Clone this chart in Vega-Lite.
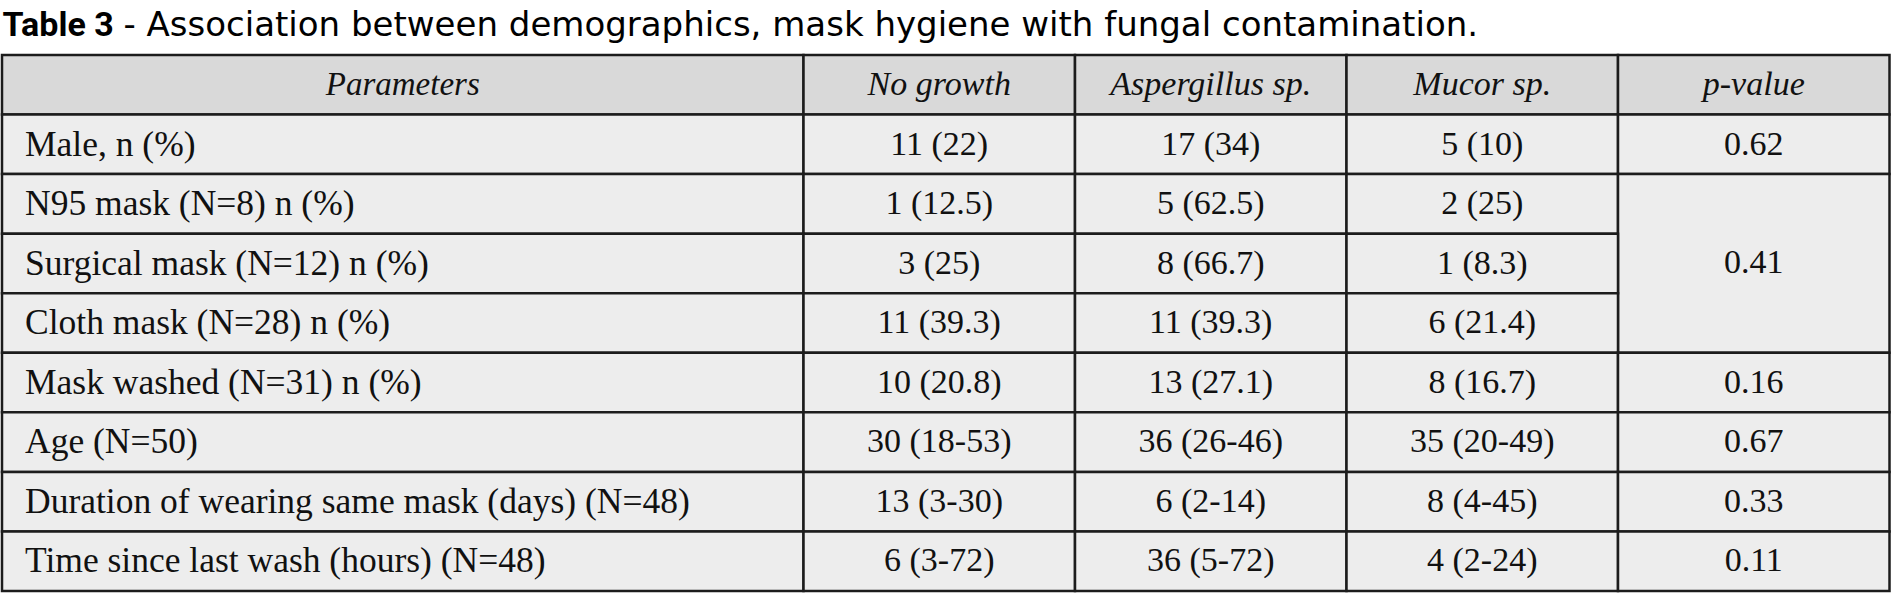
{
  "$schema": "https://vega.github.io/schema/vega-lite/v6.json",
  "width": 1888,
  "height": 536,
  "autosize": "none",
  "padding": {"left": 2, "top": 55, "right": 2, "bottom": 17},
  "background": "white",
  "config": {"view": {"stroke": null}},
  "data": {
    "values": [
      {"row": 0, "rowEnd": 1, "col": 0, "colEnd": 1, "text": "Parameters"},
      {"row": 0, "rowEnd": 1, "col": 1, "colEnd": 2, "text": "No growth"},
      {"row": 0, "rowEnd": 1, "col": 2, "colEnd": 3, "text": "Aspergillus sp."},
      {"row": 0, "rowEnd": 1, "col": 3, "colEnd": 4, "text": "Mucor sp."},
      {"row": 0, "rowEnd": 1, "col": 4, "colEnd": 5, "text": "p-value"},

      {"row": 1, "rowEnd": 2, "col": 0, "colEnd": 1, "text": "Male, n (%)"},
      {"row": 1, "rowEnd": 2, "col": 1, "colEnd": 2, "text": "11 (22)"},
      {"row": 1, "rowEnd": 2, "col": 2, "colEnd": 3, "text": "17 (34)"},
      {"row": 1, "rowEnd": 2, "col": 3, "colEnd": 4, "text": "5 (10)"},
      {"row": 1, "rowEnd": 2, "col": 4, "colEnd": 5, "text": "0.62"},

      {"row": 2, "rowEnd": 3, "col": 0, "colEnd": 1, "text": "N95 mask (N=8) n (%)"},
      {"row": 2, "rowEnd": 3, "col": 1, "colEnd": 2, "text": "1 (12.5)"},
      {"row": 2, "rowEnd": 3, "col": 2, "colEnd": 3, "text": "5 (62.5)"},
      {"row": 2, "rowEnd": 3, "col": 3, "colEnd": 4, "text": "2 (25)"},
      {"row": 2, "rowEnd": 5, "col": 4, "colEnd": 5, "text": "0.41"},

      {"row": 3, "rowEnd": 4, "col": 0, "colEnd": 1, "text": "Surgical mask (N=12) n (%)"},
      {"row": 3, "rowEnd": 4, "col": 1, "colEnd": 2, "text": "3 (25)"},
      {"row": 3, "rowEnd": 4, "col": 2, "colEnd": 3, "text": "8 (66.7)"},
      {"row": 3, "rowEnd": 4, "col": 3, "colEnd": 4, "text": "1 (8.3)"},

      {"row": 4, "rowEnd": 5, "col": 0, "colEnd": 1, "text": "Cloth mask (N=28) n (%)"},
      {"row": 4, "rowEnd": 5, "col": 1, "colEnd": 2, "text": "11 (39.3)"},
      {"row": 4, "rowEnd": 5, "col": 2, "colEnd": 3, "text": "11 (39.3)"},
      {"row": 4, "rowEnd": 5, "col": 3, "colEnd": 4, "text": "6 (21.4)"},

      {"row": 5, "rowEnd": 6, "col": 0, "colEnd": 1, "text": "Mask washed (N=31) n (%)"},
      {"row": 5, "rowEnd": 6, "col": 1, "colEnd": 2, "text": "10 (20.8)"},
      {"row": 5, "rowEnd": 6, "col": 2, "colEnd": 3, "text": "13 (27.1)"},
      {"row": 5, "rowEnd": 6, "col": 3, "colEnd": 4, "text": "8 (16.7)"},
      {"row": 5, "rowEnd": 6, "col": 4, "colEnd": 5, "text": "0.16"},

      {"row": 6, "rowEnd": 7, "col": 0, "colEnd": 1, "text": "Age (N=50)"},
      {"row": 6, "rowEnd": 7, "col": 1, "colEnd": 2, "text": "30 (18-53)"},
      {"row": 6, "rowEnd": 7, "col": 2, "colEnd": 3, "text": "36 (26-46)"},
      {"row": 6, "rowEnd": 7, "col": 3, "colEnd": 4, "text": "35 (20-49)"},
      {"row": 6, "rowEnd": 7, "col": 4, "colEnd": 5, "text": "0.67"},

      {"row": 7, "rowEnd": 8, "col": 0, "colEnd": 1, "text": "Duration of wearing same mask (days) (N=48)"},
      {"row": 7, "rowEnd": 8, "col": 1, "colEnd": 2, "text": "13 (3-30)"},
      {"row": 7, "rowEnd": 8, "col": 2, "colEnd": 3, "text": "6 (2-14)"},
      {"row": 7, "rowEnd": 8, "col": 3, "colEnd": 4, "text": "8 (4-45)"},
      {"row": 7, "rowEnd": 8, "col": 4, "colEnd": 5, "text": "0.33"},

      {"row": 8, "rowEnd": 9, "col": 0, "colEnd": 1, "text": "Time since last wash (hours) (N=48)"},
      {"row": 8, "rowEnd": 9, "col": 1, "colEnd": 2, "text": "6 (3-72)"},
      {"row": 8, "rowEnd": 9, "col": 2, "colEnd": 3, "text": "36 (5-72)"},
      {"row": 8, "rowEnd": 9, "col": 3, "colEnd": 4, "text": "4 (2-24)"},
      {"row": 8, "rowEnd": 9, "col": 4, "colEnd": 5, "text": "0.11"}
    ]
  },
  "encoding": {
    "x": {
      "field": "col",
      "type": "quantitative",
      "scale": {"domain": [0, 1, 5], "range": [0, 801.5, 1887.5], "nice": false, "zero": false},
      "axis": {
        "orient": "top",
        "title": "Table 3",
        "labels": false,
        "ticks": false,
        "domain": false,
        "grid": false,
        "titleX": 0,
        "titleY": -20,
        "titleAlign": "left",
        "titleBaseline": "alphabetic",
        "titleFont": "Roboto",
        "titleFontSize": 34,
        "titleFontWeight": "bold",
        "titleColor": "#000000",
        "titleLimit": 0
      }
    },
    "y": {
      "field": "row",
      "type": "quantitative",
      "scale": {"domain": [0, 9], "range": [0, 536], "nice": false, "zero": false},
      "axis": {
        "orient": "left",
        "title": "- Association between demographics, mask hygiene with fungal contamination.",
        "labels": false,
        "ticks": false,
        "domain": false,
        "grid": false,
        "titleAngle": 0,
        "titleX": 121,
        "titleY": -20,
        "titleAlign": "left",
        "titleBaseline": "alphabetic",
        "titleFont": "DejaVu Sans",
        "titleFontSize": 34,
        "titleFontWeight": "normal",
        "titleColor": "#000000",
        "titleLimit": 0
      }
    }
  },
  "layer": [
    {
      "mark": {"type": "rect", "stroke": "#1c1c1c", "strokeWidth": 2.5},
      "encoding": {
        "x2": {"field": "colEnd"},
        "y2": {"field": "rowEnd"},
        "fill": {
          "condition": {"test": "datum.row == 0", "value": "#d9d9d9"},
          "value": "#ededed"
        }
      }
    },
    {
      "transform": [{"filter": "datum.row == 0 && datum.col == 0"}],
      "mark": {"type": "text", "font": "Liberation Serif", "fontStyle": "italic", "fontSize": 33, "align": "center", "baseline": "middle", "dx": 400.75, "dy": 30, "color": "#111111"},
      "encoding": {"text": {"field": "text"}}
    },
    {
      "transform": [{"filter": "datum.row == 0 && datum.col > 0"}],
      "mark": {"type": "text", "font": "Liberation Serif", "fontStyle": "italic", "fontSize": 34, "align": "center", "baseline": "middle", "dx": 135.75, "dy": 30, "color": "#111111"},
      "encoding": {"text": {"field": "text"}}
    },
    {
      "transform": [{"filter": "datum.row > 0 && datum.col == 0"}],
      "mark": {"type": "text", "font": "Liberation Serif", "fontSize": 35.5, "align": "left", "baseline": "middle", "dx": 23, "dy": 30, "color": "#111111"},
      "encoding": {"text": {"field": "text"}}
    },
    {
      "transform": [{"filter": "datum.row > 0 && datum.col > 0 && datum.rowEnd - datum.row == 1"}],
      "mark": {"type": "text", "font": "Liberation Serif", "fontSize": 34, "align": "center", "baseline": "middle", "dx": 135.75, "dy": 30, "color": "#111111"},
      "encoding": {"text": {"field": "text"}}
    },
    {
      "transform": [{"filter": "datum.rowEnd - datum.row == 3"}],
      "mark": {"type": "text", "font": "Liberation Serif", "fontSize": 34, "align": "center", "baseline": "middle", "dx": 135.75, "dy": 89.3, "color": "#111111"},
      "encoding": {"text": {"field": "text"}}
    }
  ]
}
